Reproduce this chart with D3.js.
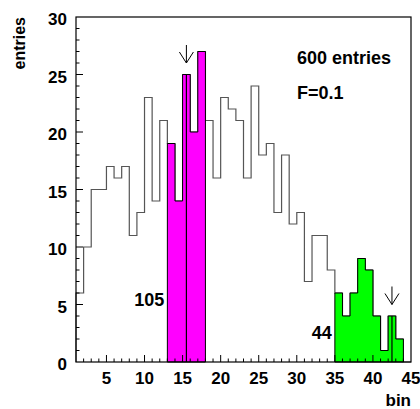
<!DOCTYPE html>
<html>
<head>
<meta charset="utf-8">
<script src="https://cdn.jsdelivr.net/npm/d3@7"></script>
<style>
  body { margin: 0; background: #fff; }
  text { font-family: "Liberation Sans", Arial, sans-serif; font-weight: bold; }
</style>
</head>
<body>
<svg id="chart" width="420" height="409"></svg>
<script>
// bin contents, bins 1..44 (each bin covers [i, i+1])
var binStart = 1;
var counts = [6, 10, 15, 15, 17, 16, 17, 11, 13, 23, 14, 21, 19, 14, 25, 20, 27, 21, 16, 23, 22,
  21, 16, 24, 18, 19, 13, 18, 12, 13, 7, 11, 11, 8, 6, 4, 6, 9, 8, 4, 1, 4, 2, 0];

// selected windows [from, to) and their labels
var windows = [
  { from: 13, to: 18, color: "#ff00ff", label: "105", cut: 15.5, labelY: 306 },
  { from: 35, to: 44, color: "#00ff00", label: "44", cut: 42.5, labelY: 339 }
];

var xTicks = [5, 10, 15, 20, 25, 30, 35, 40, 45];
var yTicks = [0, 5, 10, 15, 20, 25, 30];
var infoText = ["600 entries", "F=0.1"];

var svg = d3.select("#chart");
var x = d3.scaleLinear().domain([1, 45]).range([76, 411]);
var y = d3.scaleLinear().domain([0, 30]).range([362, 17]);

var data = counts.map(function (c, i) { return { x0: binStart + i, x1: binStart + i + 1, v: c }; });

// step outline of a set of bins
function stepPath(d) {
  var p = "M" + x(d[0].x0) + "," + y(0);
  d.forEach(function (b) {
    p += "L" + x(b.x0) + "," + y(b.v) + "L" + x(b.x1) + "," + y(b.v);
  });
  p += "L" + x(d[d.length - 1].x1) + "," + y(0);
  return p;
}

svg.append("path")
  .attr("d", stepPath(data))
  .attr("fill", "none")
  .attr("stroke", "#555")
  .attr("stroke-width", 1.2);

windows.forEach(function (w) {
  var sub = data.filter(function (b) { return b.x0 >= w.from && b.x1 <= w.to; });
  svg.append("path")
    .attr("d", stepPath(sub) + "Z")
    .attr("fill", w.color)
    .attr("stroke", "#000")
    .attr("stroke-width", 1);

  // cut line
  var hb = data.find(function (b) { return w.cut >= b.x0 && w.cut < b.x1; });
  svg.append("line")
    .attr("x1", x(w.cut)).attr("x2", x(w.cut))
    .attr("y1", y(0)).attr("y2", y(hb.v))
    .attr("stroke", "#000").attr("stroke-width", 1.2);

  // arrow above the cut
  var tipY = y(hb.v + 1), ax = x(w.cut);
  svg.append("path")
    .attr("d", "M" + ax + "," + (tipY - 18) + "L" + ax + "," + tipY +
      "M" + (ax - 7) + "," + (tipY - 11) + "L" + ax + "," + tipY + "L" + (ax + 7) + "," + (tipY - 11))
    .attr("fill", "none").attr("stroke", "#000").attr("stroke-width", 1);

  svg.append("text")
    .attr("x", x(w.from) - 3)
    .attr("y", w.labelY)
    .attr("text-anchor", "end")
    .attr("font-size", 18)
    .text(w.label);
});

// frame
svg.append("rect")
  .attr("x", x(1)).attr("y", y(30))
  .attr("width", x(45) - x(1)).attr("height", y(0) - y(30))
  .attr("fill", "none").attr("stroke", "#000").attr("stroke-width", 1.2);

// ticks (inward)
d3.range(2, 45).forEach(function (t) {
  var major = t % 5 === 0;
  svg.append("line")
    .attr("x1", x(t)).attr("x2", x(t))
    .attr("y1", y(0)).attr("y2", y(0) - (major ? 7 : 3.5))
    .attr("stroke", "#000");
});
d3.range(1, 30).forEach(function (t) {
  var major = t % 5 === 0;
  svg.append("line")
    .attr("x1", x(1)).attr("x2", x(1) + (major ? 7 : 3.5))
    .attr("y1", y(t)).attr("y2", y(t))
    .attr("stroke", "#000");
});

svg.selectAll(".xl").data(xTicks).enter().append("text")
  .attr("x", function (d) { return x(d); })
  .attr("y", 384)
  .attr("text-anchor", "middle")
  .attr("font-size", 17)
  .text(function (d) { return d; });

svg.selectAll(".yl").data(yTicks).enter().append("text")
  .attr("x", 67)
  .attr("y", function (d) { return y(d) + 8; })
  .attr("text-anchor", "end")
  .attr("font-size", 17)
  .text(function (d) { return d; });

svg.append("text")
  .attr("x", 411).attr("y", 406)
  .attr("text-anchor", "end")
  .attr("font-size", 17)
  .text("bin");

svg.append("text")
  .attr("transform", "translate(25,17) rotate(-90)")
  .attr("text-anchor", "end")
  .attr("font-size", 16)
  .text("entries");

svg.selectAll(".info").data(infoText).enter().append("text")
  .attr("x", 297)
  .attr("y", function (d, i) { return 64 + i * 35; })
  .attr("font-size", 18)
  .text(function (d) { return d; });
</script>
</body>
</html>
